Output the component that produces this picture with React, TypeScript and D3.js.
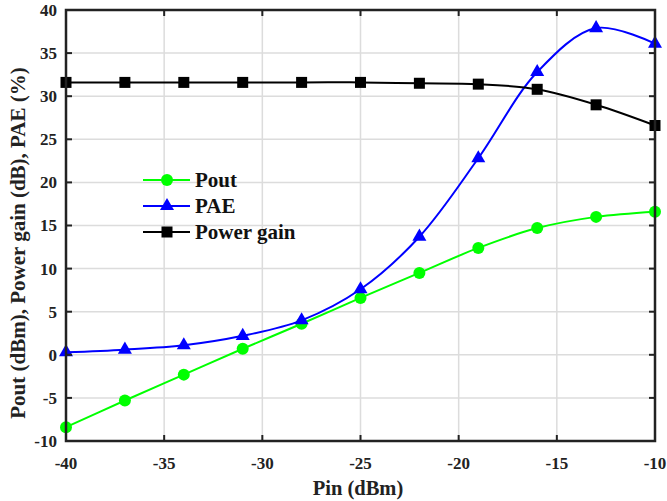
import React from 'react';
import * as d3 from 'd3';

const pin = [-40, -37, -34, -31, -28, -25, -22, -19, -16, -13, -10];
const pout = [-8.4, -5.3, -2.3, 0.7, 3.6, 6.6, 9.5, 12.4, 14.7, 16.0, 16.6];
const pae = [0.3, 0.6, 1.1, 2.2, 4.0, 7.6, 13.7, 22.8, 32.8, 37.9, 36.1];
const gain = [31.6, 31.6, 31.6, 31.6, 31.6, 31.6, 31.5, 31.4, 30.8, 29.0, 26.6];
const xTicks = [-40, -35, -30, -25, -20, -15, -10];
const yTicks = [-10, -5, 0, 5, 10, 15, 20, 25, 30, 35, 40];

const width = 667, height = 501;
const margin = { top: 10, right: 12, bottom: 60, left: 66 };
const font = '"Liberation Serif", "Times New Roman", serif';

const series = [
  { name: 'Pout', values: pout, color: '#00ff00', marker: 'circle' },
  { name: 'PAE', values: pae, color: '#0000ff', marker: 'triangle' },
  { name: 'Power gain', values: gain, color: '#000000', marker: 'square' },
];

const Marker = ({ type, x, y, color }) => {
  if (type === 'circle') return <circle cx={x} cy={y} r={6} fill={color} />;
  if (type === 'triangle') {
    const p = d3.symbol().type(d3.symbolTriangle).size(85)();
    return <path d={p} transform={`translate(${x},${y})`} fill={color} />;
  }
  return <rect x={x - 5.5} y={y - 5.5} width={11} height={11} fill={color} />;
};

export default function App() {
  const x = d3.scaleLinear().domain([-40, -10]).range([margin.left, width - margin.right]);
  const y = d3.scaleLinear().domain([-10, 40]).range([height - margin.bottom, margin.top]);
  const x0 = x.range()[0], x1 = x.range()[1];
  const y0 = y.range()[0], y1 = y.range()[1];

  const line = d3.line<number>()
    .x((d, i) => x(pin[i]))
    .y(d => y(d))
    .curve(d3.curveCatmullRom.alpha(0.5));

  const legendX = 143, legendY = [180, 206, 232];

  return (
    <svg width={width} height={height} style={{ position: 'absolute', left: 0, top: 0, background: '#fff' }}>
      {/* grid */}
      {xTicks.map(t => (
        <line key={'gx' + t} x1={x(t)} x2={x(t)} y1={y1} y2={y0} stroke="#dcdcdc" strokeWidth={1.5} />
      ))}
      {yTicks.map(t => (
        <line key={'gy' + t} x1={x0} x2={x1} y1={y(t)} y2={y(t)} stroke="#dcdcdc" strokeWidth={1.5} />
      ))}

      {/* lines and markers */}
      {series.map(s => (
        <g key={s.name}>
          <path d={line(s.values)} fill="none" stroke={s.color} strokeWidth={2} />
          {s.values.map((v, i) => (
            <Marker key={i} type={s.marker} x={x(pin[i])} y={y(v)} color={s.color} />
          ))}
        </g>
      ))}

      {/* box + inward ticks */}
      <rect x={x0} y={y1} width={x1 - x0} height={y0 - y1} fill="none" stroke="#222" strokeWidth={2.5} />
      {xTicks.map(t => (
        <g key={'tx' + t}>
          <line x1={x(t)} x2={x(t)} y1={y0} y2={y0 - 6} stroke="#222" strokeWidth={2} />
          <line x1={x(t)} x2={x(t)} y1={y1} y2={y1 + 6} stroke="#222" strokeWidth={2} />
          <text x={x(t)} y={469} textAnchor="middle" fontFamily={font} fontWeight="bold" fontSize={17} fill="#222">{t}</text>
        </g>
      ))}
      {yTicks.map(t => (
        <g key={'ty' + t}>
          <line x1={x0} x2={x0 + 6} y1={y(t)} y2={y(t)} stroke="#222" strokeWidth={2} />
          <line x1={x1} x2={x1 - 6} y1={y(t)} y2={y(t)} stroke="#222" strokeWidth={2} />
          <text x={57} y={y(t)} dy="0.35em" textAnchor="end" fontFamily={font} fontWeight="bold" fontSize={17} fill="#222">{t}</text>
        </g>
      ))}

      {/* axis titles */}
      <text x={358} y={495} textAnchor="middle" fontFamily={font} fontWeight="bold" fontSize={20.5} fill="#222">Pin (dBm)</text>
      <text transform="translate(25,243) rotate(-90)" textAnchor="middle" fontFamily={font} fontWeight="bold" fontSize={21} fill="#222">
        Pout (dBm), Power gain (dB), PAE (%)
      </text>

      {/* legend */}
      {series.map((s, i) => (
        <g key={'lg' + s.name}>
          <line x1={legendX} x2={legendX + 47} y1={legendY[i]} y2={legendY[i]} stroke={s.color} strokeWidth={2} />
          <Marker type={s.marker} x={legendX + 24} y={legendY[i]} color={s.color} />
          <text x={legendX + 52} y={legendY[i]} dy="0.35em" fontFamily={font} fontWeight="bold" fontSize={21} fill="#111">{s.name}</text>
        </g>
      ))}
    </svg>
  );
}
